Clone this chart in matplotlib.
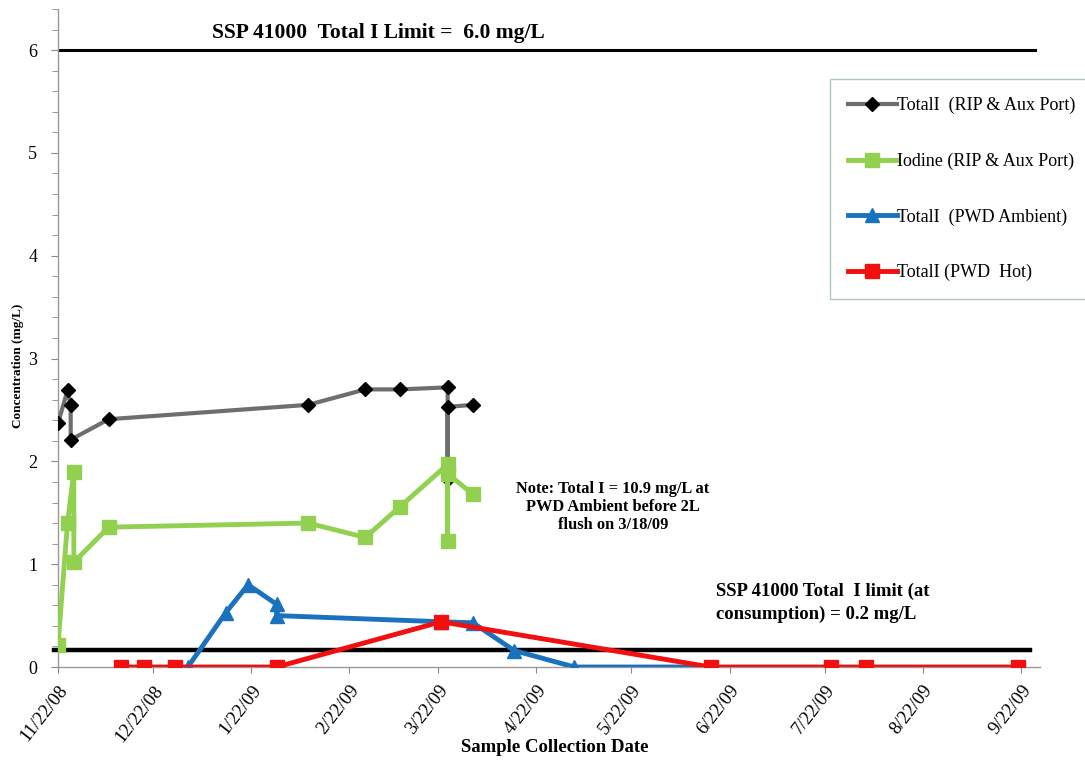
import matplotlib
matplotlib.use("Agg")
import matplotlib.pyplot as plt
import pandas as pd

plt.rcParams['font.family'] = ['Liberation Serif', 'DejaVu Serif']

# ---- data ----
ripaux_total_dates = ['2008-11-22', '2008-11-25', '2008-11-26', '2008-11-26', '2008-12-08',
                      '2009-02-09', '2009-02-27', '2009-03-10', '2009-03-25', '2009-03-25',
                      '2009-03-25', '2009-04-02']
ripaux_total_vals = [2.37, 2.69, 2.55, 2.21, 2.41, 2.55, 2.70, 2.70, 2.72, 1.83, 2.53, 2.55]

ripaux_iodine_dates = ['2008-11-22', '2008-11-25', '2008-11-27', '2008-11-27', '2008-12-08',
                       '2009-02-09', '2009-02-27', '2009-03-10', '2009-03-25', '2009-03-25',
                       '2009-03-25', '2009-04-02']
ripaux_iodine_vals = [0.21, 1.40, 1.90, 1.02, 1.36, 1.40, 1.26, 1.56, 1.97, 1.23, 1.88, 1.68]

pwd_amb_dates = ['2009-01-02', '2009-01-14', '2009-01-21', '2009-01-30', '2009-01-30',
                 '2009-03-23', '2009-04-02', '2009-04-15', '2009-05-04', '2009-06-16']
pwd_amb_vals = [0.0, 0.53, 0.80, 0.61, 0.50, 0.44, 0.43, 0.16, 0.0, 0.0]

pwd_hot_dates = ['2008-12-12', '2008-12-19', '2008-12-29', '2009-01-30', '2009-03-23',
                 '2009-06-16', '2009-07-24', '2009-08-04', '2009-09-21']
pwd_hot_vals = [0.0, 0.0, 0.0, 0.0, 0.44, 0.0, 0.0, 0.0, 0.0]

limit_total = 6.0
limit_consumption = 0.17

tick_dates = ['2008-11-22', '2008-12-22', '2009-01-22', '2009-02-22', '2009-03-22', '2009-04-22',
              '2009-05-22', '2009-06-22', '2009-07-22', '2009-08-22', '2009-09-22']
tick_labels = ['11/22/08', '12/22/08', '1/22/09', '2/22/09', '3/22/09', '4/22/09',
               '5/22/09', '6/22/09', '7/22/09', '8/22/09', '9/22/09']

legend_labels = ['TotalI  (RIP & Aux Port)', 'Iodine (RIP & Aux Port)',
                 'TotalI  (PWD Ambient)', 'TotalI (PWD  Hot)']

def d(lst):
    return pd.to_datetime(lst)

fig = plt.figure(figsize=(10.85, 7.61), dpi=100)
ax = fig.add_axes([58 / 1085, 94 / 761, (1040 - 58) / 1085, 658 / 761])

gray = '#6E6E6E'
green = '#92D050'
blue = '#1A72BE'
red = '#F01010'

ax.axhline(limit_total, xmin=0.0, xmax=0.995, color='black', lw=2.2, zorder=2)
ax.axhline(limit_consumption, xmin=-0.004, xmax=0.99, color='black', lw=3.2, zorder=2, clip_on=False)

l1, = ax.plot(d(ripaux_total_dates), ripaux_total_vals, color=gray, lw=3, marker='D',
              markersize=7.5, markerfacecolor='black', markeredgecolor='black', zorder=4)
l2, = ax.plot(d(ripaux_iodine_dates), ripaux_iodine_vals, color=green, lw=3.5, marker='s',
              markersize=10, markerfacecolor=green, markeredgecolor=green, zorder=5)
l3, = ax.plot(d(pwd_amb_dates), pwd_amb_vals, color=blue, lw=3.5, marker='^',
              markersize=10, markerfacecolor=blue, markeredgecolor=blue, zorder=3)
l4, = ax.plot(d(pwd_hot_dates), pwd_hot_vals, color=red, lw=3.5, marker='s',
              markersize=10, markerfacecolor=red, markeredgecolor=red, zorder=3)

ax.set_xlim(pd.Timestamp('2008-11-22 10:00'), pd.Timestamp('2009-09-28'))
ax.set_ylim(0, 6.4)

ax.set_xticks(d(tick_dates))
ax.set_xticklabels(tick_labels, rotation=52, ha='right', rotation_mode='anchor', fontsize=13.5)
ax.set_yticks([0, 1, 2, 3, 4, 5, 6])
ax.set_yticks([i * 0.2 for i in range(33)], minor=True)
ax.tick_params(axis='y', which='major', labelsize=13, length=5, color='#888888', pad=10)
ax.tick_params(axis='y', which='minor', length=4, color='#888888')
ax.tick_params(axis='x', which='major', length=4, color='#888888', pad=7)

for s in ['top', 'right']:
    ax.spines[s].set_visible(False)
for s in ['left', 'bottom']:
    ax.spines[s].set_color('#999999')
    ax.spines[s].set_linewidth(1.0)

ax.set_xlabel('Sample Collection Date', fontsize=13.5, fontweight='bold', va='center')
ax.xaxis.set_label_coords(0.506, -0.1216)
ax.set_ylabel('Concentration (mg/L)', fontsize=9.5, fontweight='bold', va='center')
ax.yaxis.set_label_coords(-0.0407, 0.457)

fig.text(378 / 1085, 1 - 33 / 761, 'SSP 41000  Total I Limit =  6.0 mg/L', fontsize=15.5,
         fontweight='bold', ha='center', va='center')
fig.text(716 / 1085, 1 - 603 / 761, 'SSP 41000 Total  I limit (at\nconsumption) = 0.2 mg/L',
         fontsize=13.5, fontweight='bold', ha='left', va='center', linespacing=1.45)
fig.text(613 / 1085, 1 - 507 / 761, 'Note: Total I = 10.9 mg/L at\nPWD Ambient before 2L\nflush on 3/18/09',
         fontsize=11.8, fontweight='bold', ha='center', va='center', ma='center', linespacing=1.15)

leg = fig.legend([l1, l2, l3, l4], legend_labels, loc='upper left',
                 bbox_to_anchor=(830 / 1085, 1 - 79 / 761), fontsize=13,
                 frameon=True, fancybox=False, labelspacing=2.12, handlelength=2.7,
                 handletextpad=0.0, borderpad=1.0, borderaxespad=0)
leg.get_frame().set_edgecolor('#9DB8AE')
leg.get_frame().set_linewidth(1.0)

fig.savefig('out.png', dpi=100)
